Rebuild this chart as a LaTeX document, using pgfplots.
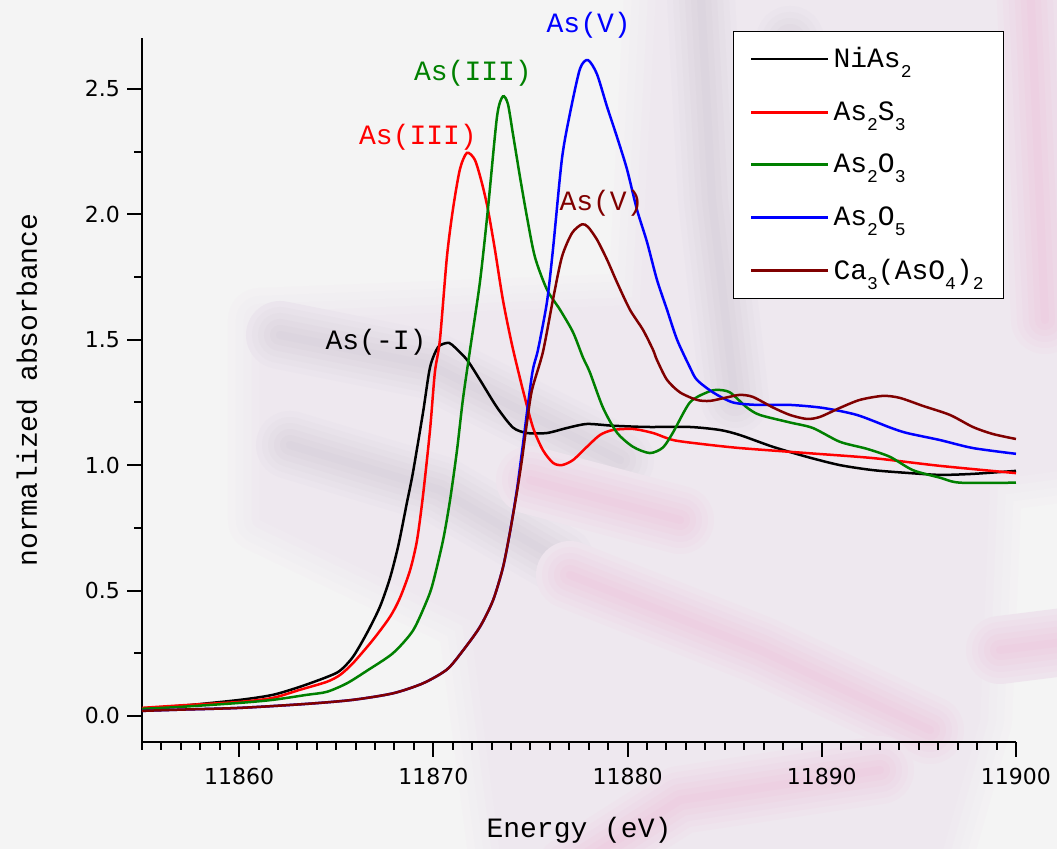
\documentclass[border=0pt]{standalone}
\usepackage{fontspec}
\setmainfont{DejaVu Sans}
\newfontfamily\cour{Liberation Mono}
\usepackage{pgfplots}
\pgfplotsset{compat=1.18}

\definecolor{bg}{HTML}{F4F4F4}
\definecolor{maroon}{HTML}{800000}
\definecolor{dgreen}{HTML}{008000}
\definecolor{haze}{HTML}{EEE8EF}
\definecolor{streak}{HTML}{DCD5DF}
\definecolor{rose}{HTML}{EDD0E2}

\newcommand\sub[1]{\raisebox{-5pt}{\fontsize{9}{9}\selectfont#1}}
\newcommand\lbl{\cour\fontsize{14}{16}\selectfont}
% a soft-edged filled region: colour, surrounding colour, path
\newcommand\softfill[3]{%
  \draw[#1!20!#2, line width=32pt, line join=round] #3;
  \draw[#1!40!#2, line width=24pt, line join=round] #3;
  \draw[#1!60!#2, line width=16pt, line join=round] #3;
  \draw[#1!80!#2, line width=8pt, line join=round] #3;
  \fill[#1] #3;}
% a soft stroke: colour, surrounding colour, path
\newcommand\softline[3]{%
  \draw[#1!15!#2, line width=34pt, line join=round, line cap=round] #3;
  \draw[#1!32!#2, line width=28pt, line join=round, line cap=round] #3;
  \draw[#1!50!#2, line width=22pt, line join=round, line cap=round] #3;
  \draw[#1!68!#2, line width=16pt, line join=round, line cap=round] #3;
  \draw[#1!85!#2, line width=10pt, line join=round, line cap=round] #3;
  \draw[#1, line width=4pt, line join=round, line cap=round] #3;}

\begin{document}
\begin{tikzpicture}
\useasboundingbox (-71pt,-53.5pt) rectangle (457.5pt,371pt);
% page background
\fill[bg] (-71pt,-53.5pt) rectangle (457.5pt,371pt);
% pale photographic backdrop behind the plot
\begin{scope}[x=0.5pt,y=-0.5pt,shift={(-71pt,371pt)}]
  \clip (0,0) rectangle (1057,849);
  \softfill{haze}{bg}{(260,320) -- (640,305) -- (660,-80) -- (1140,-80) -- (1140,460)
       -- (990,480) -- (980,720) -- (920,930) -- (510,930) -- (470,620) -- (260,520) -- cycle}
  \softline{streak}{haze}{(280,335) -- (430,365) -- (620,460)}
  \softline{streak}{haze}{(290,445) -- (440,490) -- (560,560)}
  \softline{streak}{haze}{(700,-20) -- (712,200) -- (735,400)}
  \softline{streak}{haze}{(790,40) -- (815,260)}
  \softline{rose}{haze}{(570,575) -- (760,650) -- (930,730)}
  \softline{rose}{haze}{(570,870) -- (680,800) -- (880,770)}
  \softline{rose}{haze}{(530,480) -- (680,520)}
  \softline{rose}{haze}{(1030,-20) -- (1045,320)}
  \softline{rose}{haze}{(1000,650) -- (1080,640)}
\end{scope}
\begin{axis}[
  at={(0,0)}, anchor=south west,
  scale only axis, width=437pt, height=352pt,
  xmin=11855, xmax=11900, ymin=-0.104, ymax=2.703,
  axis x line=bottom, axis y line=left,
  axis line style={-, line width=1pt},
  every tick/.style={black, line width=1pt},
  tick align=outside,
  major tick length=7.5pt, minor tick length=4pt,
  xtick={11860,11870,11880,11890,11900},
  minor xtick={11855,11856,...,11899},
  ytick={0,0.5,1,1.5,2,2.5},
  minor ytick={0.25,0.75,1.25,1.75,2.25},
  scaled x ticks=false,
  /pgf/number format/assume math mode=true,
  ticklabel style={font=\fontsize{11}{13}\selectfont},
  xticklabel style={yshift=-2pt, /pgf/number format/.cd, fixed, precision=0, set thousands separator={}},
  yticklabel style={/pgf/number format/.cd, fixed, fixed zerofill, precision=1},
  xlabel={Energy (eV)},
  ylabel={normalized absorbance},
  xlabel style={font=\lbl, at={(rel axis cs:0.5,0)}, anchor=center, yshift=-44pt},
  ylabel style={font=\lbl, at={(rel axis cs:0,0.5)}, anchor=center, yshift=57.5pt},
  clip=false,
  legend cell align=left,
  legend style={
    at={(rel axis cs:1,1)}, anchor=north east, xshift=-6pt, yshift=3.5pt,
    draw=black, fill=white,
    font=\lbl, inner xsep=8pt, inner ysep=6pt, row sep=11.4pt,
  },
  legend image code/.code={\draw[#1, line width=1.4pt] (0pt,0pt) -- (38.5pt,0pt);},
  every axis plot/.append style={line width=1.25pt, smooth, tension=0.45},
]
% NiAs2
\addplot[black] coordinates {
(11855,0.030) (11857,0.040) (11860.05,0.064) (11861.74,0.084) (11863.13,0.116)
(11864.52,0.155) (11865.19,0.18) (11865.86,0.235) (11866.58,0.33) (11867.25,0.435)
(11867.77,0.55) (11868.2,0.68) (11868.64,0.85) (11868.95,0.97) (11869.47,1.21)
(11869.83,1.39) (11870.24,1.47) (11870.70,1.487) (11870.96,1.48) (11871.73,1.42)
(11872.40,1.34) (11873.28,1.23) (11874.10,1.15) (11874.82,1.128) (11875.85,1.128)
(11876.88,1.148) (11877.91,1.164) (11879.25,1.157) (11881.0,1.152) (11883.21,1.152)
(11884.76,1.14) (11885.78,1.12) (11887.48,1.073) (11889.23,1.033) (11890.93,1.0)
(11892.63,0.98) (11894.38,0.969) (11896.08,0.961) (11897.78,0.965) (11900,0.977)
};
\addlegendentry{NiAs\sub{2}}
% As2S3
\addplot[red] coordinates {
(11855,0.032) (11857,0.042) (11860.05,0.056) (11861.74,0.072) (11863.13,0.104)
(11864.52,0.136) (11865.19,0.163) (11865.86,0.21) (11866.89,0.303) (11867.77,0.395)
(11868.28,0.47) (11868.80,0.58) (11869.16,0.70) (11869.47,0.88) (11869.83,1.14)
(11870.08,1.37) (11870.34,1.50) (11870.70,1.83) (11871.01,2.02) (11871.37,2.18)
(11871.73,2.245) (11872.14,2.217) (11872.50,2.125) (11872.81,2.02) (11873.17,1.86)
(11873.58,1.66) (11874.05,1.48) (11874.61,1.30) (11875.13,1.15) (11875.64,1.06)
(11876.16,1.009) (11876.62,1.0) (11877.19,1.02) (11877.91,1.073) (11878.58,1.12)
(11879.25,1.14) (11880.28,1.144) (11881.31,1.128) (11882.34,1.10) (11883.73,1.085)
(11885.78,1.068) (11889.23,1.048) (11892.63,1.028) (11896.08,0.997) (11900,0.968)
};
\addlegendentry{As\sub{2}S\sub{3}}
% As2O3
\addplot[dgreen] coordinates {
(11855,0.028) (11857,0.036) (11860.05,0.052) (11861.74,0.064) (11863.49,0.084)
(11864.52,0.096) (11865.55,0.13) (11866.58,0.18) (11867.92,0.25) (11868.95,0.34)
(11869.67,0.46) (11869.98,0.53) (11870.50,0.70) (11870.86,0.86) (11871.22,1.06)
(11871.52,1.26) (11871.89,1.46) (11872.40,1.73) (11872.81,2.02) (11873.28,2.39)
(11873.58,2.47) (11873.84,2.44) (11874.10,2.32) (11874.46,2.15) (11874.82,1.99)
(11875.23,1.83) (11875.85,1.70) (11876.52,1.62) (11877.19,1.53) (11877.70,1.43)
(11878.06,1.37) (11878.73,1.23) (11879.45,1.13) (11880.28,1.073) (11881.15,1.048)
(11881.82,1.07) (11882.34,1.13) (11883.21,1.25) (11884.09,1.29) (11884.60,1.30)
(11885.27,1.29) (11886.14,1.23) (11886.81,1.20) (11888.36,1.17) (11889.54,1.148)
(11890.93,1.093) (11892.32,1.065) (11893.51,1.033) (11894.69,0.98) (11896.08,0.95)
(11897.11,0.93) (11900,0.93)
};
\addlegendentry{As\sub{2}O\sub{3}}
% As2O5
\addplot[blue] coordinates {
(11855,0.020) (11857,0.025) (11860.05,0.032) (11863.49,0.048) (11865.86,0.064)
(11867.92,0.090) (11869.47,0.13) (11870.70,0.185) (11871.52,0.26) (11872.40,0.355)
(11873.07,0.46) (11873.58,0.59) (11873.94,0.73) (11874.30,0.90) (11874.56,1.05)
(11875.08,1.36) (11875.39,1.46) (11875.85,1.65) (11876.16,1.86) (11876.62,2.22)
(11877.03,2.40) (11877.55,2.58) (11877.96,2.615) (11878.42,2.56) (11878.94,2.43)
(11879.45,2.31) (11879.97,2.18) (11880.48,2.02) (11881.00,1.89) (11881.51,1.74)
(11882.03,1.62) (11882.55,1.50) (11883.21,1.39) (11883.57,1.34) (11884.40,1.29)
(11885.42,1.25) (11886.66,1.24) (11888.36,1.24) (11890.06,1.228) (11891.81,1.20)
(11893.51,1.15) (11894.38,1.128) (11896.08,1.10) (11897.78,1.068) (11900,1.045)
};
\addlegendentry{As\sub{2}O\sub{5}}
% Ca3(AsO4)2
\addplot[maroon] coordinates {
(11855,0.020) (11857,0.025) (11860.05,0.032) (11863.49,0.048) (11865.86,0.064)
(11867.92,0.090) (11869.47,0.13) (11870.70,0.185) (11871.52,0.26) (11872.40,0.355)
(11873.07,0.46) (11873.58,0.59) (11873.94,0.73) (11874.30,0.89) (11874.56,1.02)
(11874.82,1.17) (11875.08,1.30) (11875.64,1.45) (11876.16,1.66) (11876.62,1.83)
(11877.14,1.925) (11877.65,1.96) (11877.96,1.95) (11878.42,1.90) (11878.94,1.82)
(11879.45,1.73) (11880.12,1.62) (11880.79,1.54) (11881.31,1.46) (11881.51,1.42)
(11882.03,1.34) (11882.70,1.29) (11883.57,1.26) (11884.24,1.256) (11885.12,1.27)
(11885.78,1.28) (11886.45,1.272) (11887.48,1.23) (11888.36,1.20) (11889.23,1.184)
(11889.90,1.192) (11890.93,1.228) (11891.96,1.26) (11893.15,1.276) (11894.02,1.268)
(11895.21,1.236) (11896.60,1.20) (11897.78,1.152) (11898.81,1.124) (11900,1.104)
};
\addlegendentry{Ca\sub{3}(AsO\sub{4})\sub{2}}
% oxidation-state labels
\node[font=\lbl, text=blue]   at (axis cs:11878.0,2.755) {As(V)};
\node[font=\lbl, text=dgreen] at (axis cs:11872.04,2.564) {As(III)};
\node[font=\lbl, text=red]    at (axis cs:11869.21,2.309) {As(III)};
\node[font=\lbl, text=maroon] at (axis cs:11878.66,2.045) {As(V)};
\node[font=\lbl, text=black]  at (axis cs:11867.05,1.491) {As(-I)};
\end{axis}
\end{tikzpicture}
\end{document}
